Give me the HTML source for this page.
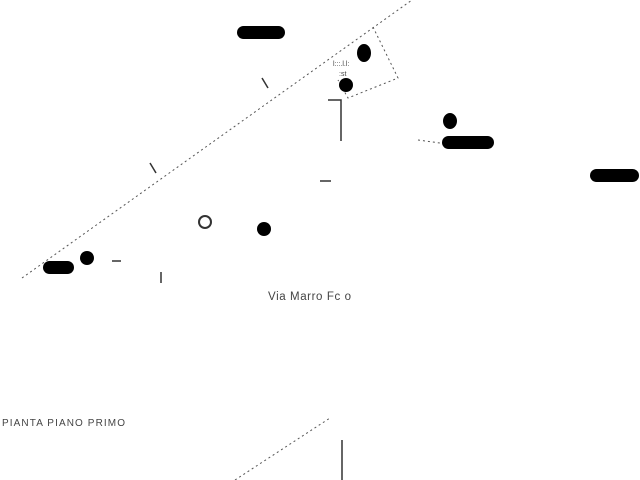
<!DOCTYPE html>
<html><head><meta charset="utf-8"><style>
html,body{margin:0;padding:0;background:#fff;width:640px;height:480px;overflow:hidden}
svg{display:block}
text{font-family:"Liberation Sans",sans-serif;fill:#444}
</style></head><body>
<svg width="640" height="480" viewBox="0 0 640 480">
<g stroke="#555" stroke-width="1" stroke-dasharray="2,3" fill="none">
<line x1="22" y1="278" x2="412" y2="0"/>
<polyline points="373,27 398,78 348,98 338,80"/>
<line x1="235" y1="480" x2="330" y2="418"/>
<line x1="418" y1="140" x2="440" y2="143"/>
</g>
<g fill="#000">
<rect x="237" y="26" width="48" height="13" rx="6.5"/>
<ellipse cx="364" cy="53" rx="7" ry="9"/>
<circle cx="346" cy="85" r="7"/>
<ellipse cx="450" cy="121" rx="7" ry="8"/>
<rect x="442" y="136" width="52" height="13" rx="6.5"/>
<rect x="590" y="169" width="49" height="13" rx="6.5"/>
<circle cx="264" cy="229" r="7"/>
<circle cx="87" cy="258" r="7"/>
<rect x="43" y="261" width="31" height="13" rx="6.5"/>
</g>
<circle cx="205" cy="222" r="6" fill="none" stroke="#333" stroke-width="2"/>
<g stroke="#333" stroke-width="1.5" fill="none">
<polyline points="328,100 341,100 341,141"/>
<line x1="320" y1="181" x2="331" y2="181"/>
<line x1="112" y1="261" x2="121" y2="261"/>
<line x1="161" y1="272" x2="161" y2="283"/>
<line x1="342" y1="440" x2="342" y2="480"/>
<line x1="262" y1="78" x2="268" y2="88"/>
<line x1="150" y1="163" x2="156" y2="173"/>
</g>
<text x="333" y="66" font-size="7">l:::.l.l:</text>
<text x="339" y="76" font-size="7">:st</text>
<text x="268" y="300" font-size="11.5" letter-spacing="0.6">Via Marro Fc o</text>
<text x="2" y="426" font-size="10" letter-spacing="1.1">PIANTA PIANO PRIMO</text>
</svg>
</body></html>
